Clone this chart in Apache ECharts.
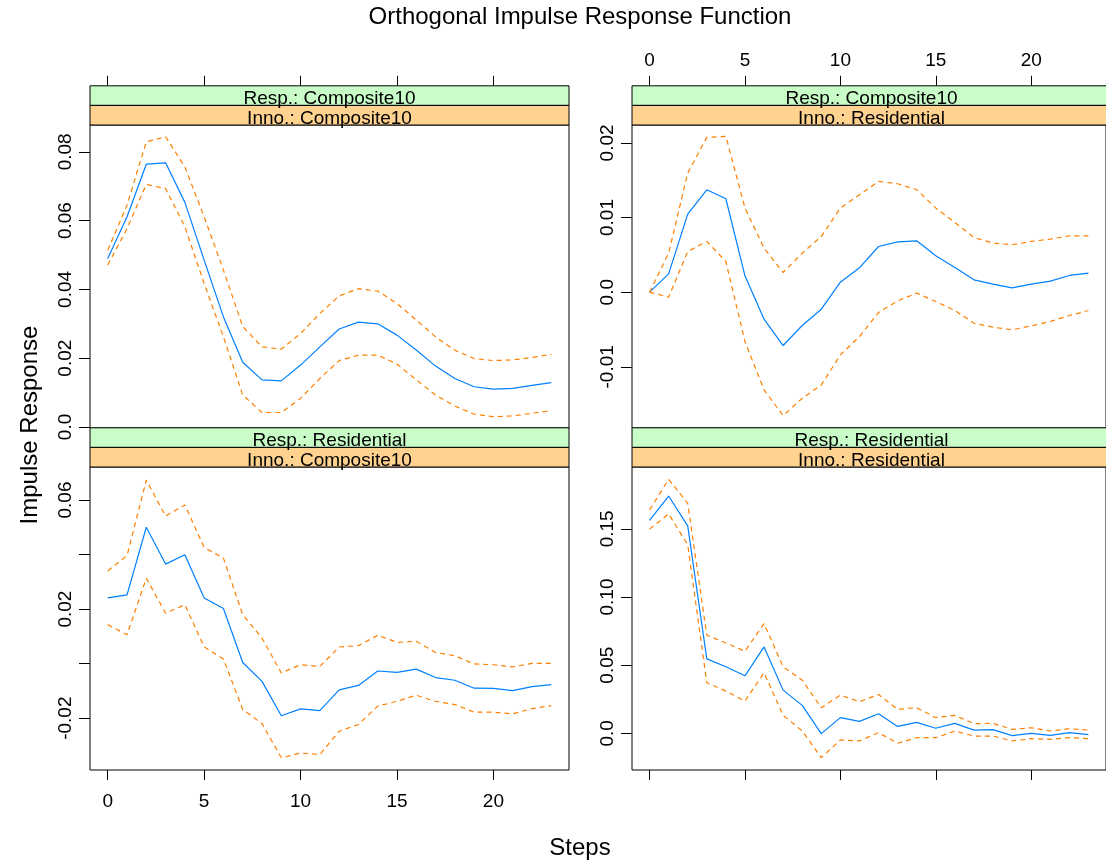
<!DOCTYPE html>
<html>
<head>
<meta charset="utf-8">
<script src="https://cdn.jsdelivr.net/npm/echarts@6/dist/echarts.min.js"></script>
<style>
  html, body { margin: 0; padding: 0; background: #fff; }
  #chart { width: 1106px; height: 865px; }
</style>
</head>
<body>
<div id="chart"></div>
<script>
const steps = [0, 1, 2, 3, 4, 5, 6, 7, 8, 9, 10, 11, 12, 13, 14, 15, 16, 17, 18, 19, 20, 21, 22, 23];

// Resp.: Composite10 / Inno.: Composite10
const c10c10 = [0.0490, 0.0611, 0.0764, 0.0768, 0.0653, 0.0485, 0.0320, 0.0188, 0.0137, 0.0134, 0.0180, 0.0233,
  0.0285, 0.0305, 0.0300, 0.0267, 0.0224, 0.0177, 0.0141, 0.0117, 0.0110, 0.0112, 0.0121, 0.0129];
const c10c10Upper = [0.0514, 0.0645, 0.0829, 0.0844, 0.0756, 0.0611, 0.0456, 0.0292, 0.0233, 0.0226, 0.0272, 0.0330,
  0.0381, 0.0402, 0.0395, 0.0359, 0.0311, 0.0262, 0.0223, 0.0199, 0.0193, 0.0195, 0.0202, 0.0211];
const c10c10Lower = [0.0471, 0.0577, 0.0705, 0.0693, 0.0582, 0.0417, 0.0262, 0.0093, 0.0042, 0.0042, 0.0083, 0.0141,
  0.0193, 0.0209, 0.0209, 0.0183, 0.0137, 0.0093, 0.0061, 0.0037, 0.0030, 0.0032, 0.0040, 0.0047];

// Resp.: Composite10 / Inno.: Residential
const c10res = [0.0000, 0.00246, 0.01046, 0.01372, 0.01252, 0.00219, -0.00362, -0.00715, -0.00447, -0.00228, 0.00134, 0.00326,
  0.00612, 0.00675, 0.00688, 0.00487, 0.00331, 0.00165, 0.00107, 0.00058, 0.00107, 0.00148, 0.00224, 0.00255];
const c10resUpper = [0.0000, 0.00523, 0.01596, 0.02074, 0.02088, 0.01127, 0.00590, 0.00264, 0.00523, 0.00747, 0.01127, 0.01305,
  0.01484, 0.01453, 0.01372, 0.01127, 0.00934, 0.00733, 0.00657, 0.00635, 0.00680, 0.00711, 0.00755, 0.00755];
const c10resLower = [0.0000, -0.00067, 0.00545, 0.00680, 0.00411, -0.00662, -0.01310, -0.01654, -0.01422, -0.01243, -0.00840, -0.00595,
  -0.00273, -0.00116, -0.00013, -0.00125, -0.00246, -0.00416, -0.00469, -0.00505, -0.00452, -0.00393, -0.00313, -0.00246];

// Resp.: Residential / Inno.: Composite10
const resc10 = [0.0241, 0.0252, 0.0500, 0.0365, 0.0399, 0.0241, 0.0202, 0.0004, -0.0065, -0.0191, -0.0166, -0.0172,
  -0.0096, -0.0080, -0.0027, -0.0032, -0.0020, -0.0051, -0.0061, -0.0090, -0.0091, -0.0099, -0.0084, -0.0077];
const resc10Upper = [0.0340, 0.0396, 0.0673, 0.0541, 0.0582, 0.0426, 0.0387, 0.0179, 0.0094, -0.0034, -0.0004, -0.0010,
  0.0061, 0.0066, 0.0104, 0.0078, 0.0082, 0.0041, 0.0029, -0.0001, -0.0004, -0.0012, 0.0001, 0.0001];
const resc10Lower = [0.0143, 0.0106, 0.0313, 0.0185, 0.0216, 0.0061, 0.0017, -0.0168, -0.0220, -0.0345, -0.0328, -0.0333,
  -0.0248, -0.0223, -0.0156, -0.0138, -0.0116, -0.0138, -0.0150, -0.0178, -0.0178, -0.0184, -0.0165, -0.0154];

// Resp.: Residential / Inno.: Residential
const resres = [0.1563, 0.1741, 0.1522, 0.0546, 0.0488, 0.0422, 0.0634, 0.0317, 0.0205, -0.0002, 0.0115, 0.0088,
  0.0144, 0.0051, 0.0080, 0.0037, 0.0073, 0.0024, 0.0027, -0.0017, 0.0000, -0.0015, 0.0005, -0.0010];
const resresUpper = [0.1639, 0.1863, 0.1688, 0.0720, 0.0663, 0.0602, 0.0805, 0.0488, 0.0390, 0.0188, 0.0280, 0.0232,
  0.0285, 0.0176, 0.0188, 0.0115, 0.0132, 0.0071, 0.0073, 0.0029, 0.0041, 0.0017, 0.0034, 0.0024];
const resresLower = [0.1498, 0.1610, 0.1383, 0.0371, 0.0310, 0.0237, 0.0444, 0.0132, 0.0017, -0.0178, -0.0049, -0.0056,
  0.0005, -0.0073, -0.0032, -0.0032, 0.0017, -0.0020, -0.0020, -0.0056, -0.0039, -0.0044, -0.0032, -0.0039];

// tick positions / labels
const xTicks = [0, 5, 10, 15, 20];
const yTicksTL = [0, 0.02, 0.04, 0.06, 0.08];
const yTicksTR = [-0.01, 0, 0.01, 0.02];
const yTicksBL = [-0.02, 0, 0.02, 0.04, 0.06];
const yLabelsBL = [-0.02, 0.02, 0.06];
const yTicksBR = [0, 0.05, 0.10, 0.15];

const FONT = 'Liberation Sans, Arial, Helvetica, sans-serif';
const BLUE = '#0080ff';
const ORANGE = '#ff7f00';
const GREEN_STRIP = '#c8fdc8';
const ORANGE_STRIP = '#ffd28f';

const W = 479, H = 303, STRIP = 19.6;
const panels = [
  { left: 90, top: 125, resp: 'Composite10', inno: 'Composite10', y: [-0.0003, 0.0878], yt: yTicksTL, yl: yTicksTL,
    d: [c10c10, c10c10Upper, c10c10Lower], topTicks: true, topLabels: false, bottomLabels: false, bottomTicks: false },
  { left: 632, top: 125, resp: 'Composite10', inno: 'Residential', y: [-0.0182, 0.0224], yt: yTicksTR, yl: yTicksTR,
    d: [c10res, c10resUpper, c10resLower], topTicks: true, topLabels: true, bottomLabels: false, bottomTicks: false },
  { left: 90, top: 467, resp: 'Residential', inno: 'Composite10', y: [-0.0390, 0.0721], yt: yTicksBL, yl: yLabelsBL,
    d: [resc10, resc10Upper, resc10Lower], topTicks: false, topLabels: false, bottomLabels: true, bottomTicks: true },
  { left: 632, top: 467, resp: 'Residential', inno: 'Residential', y: [-0.0269, 0.1954], yt: yTicksBR, yl: yTicksBR,
    d: [resres, resresUpper, resresLower], topTicks: false, topLabels: false, bottomLabels: false, bottomTicks: true }
];

function fmt(v) {
  if (Math.abs(v) < 1e-9) return '0.0';
  return v.toFixed(2);
}

const grid = [], xAxis = [], yAxis = [], series = [], graphic = [];

panels.forEach((p, k) => {
  grid.push({ left: p.left, top: p.top, width: W, height: H, show: true,
    borderColor: '#000', borderWidth: 1, backgroundColor: 'transparent' });

  // main x axis (bottom)
  xAxis.push({
    type: 'value', gridIndex: k, min: -0.92, max: 23.92, position: 'bottom',
    axisLine: { show: false, onZero: false }, splitLine: { show: false },
    axisTick: { show: p.bottomTicks, inside: false, length: 10, customValues: xTicks,
      lineStyle: { color: '#000', width: 1 } },
    axisLabel: { show: p.bottomLabels, customValues: xTicks, margin: 22, fontSize: 19, color: '#000', fontFamily: FONT }
  });
  // top tick axis above the strips
  xAxis.push({
    type: 'value', gridIndex: k, min: -0.92, max: 23.92, position: 'top', offset: 2 * STRIP,
    axisLine: { show: false, onZero: false }, splitLine: { show: false },
    axisTick: { show: p.topTicks, inside: false, length: 10, customValues: xTicks,
      lineStyle: { color: '#000', width: 1 } },
    axisLabel: { show: p.topLabels, customValues: xTicks, margin: 16, fontSize: 19, color: '#000', fontFamily: FONT }
  });

  yAxis.push({
    type: 'value', gridIndex: k, min: p.y[0], max: p.y[1], position: 'left',
    axisLine: { show: false, onZero: false }, splitLine: { show: false },
    axisTick: { show: true, inside: false, length: 11, customValues: p.yt, lineStyle: { color: '#000', width: 1 } },
    axisLabel: { show: true, customValues: p.yl, rotate: 90, margin: 15, fontSize: 19, color: '#000',
      fontFamily: FONT, formatter: fmt }
  });

  const styles = [
    { color: BLUE, width: 1.2, type: 'solid' },
    { color: ORANGE, width: 1.2, type: [5, 4] },
    { color: ORANGE, width: 1.2, type: [5, 4] }
  ];
  p.d.forEach((arr, j) => {
    series.push({
      type: 'line', xAxisIndex: 2 * k, yAxisIndex: k, symbol: 'none', silent: true,
      lineStyle: styles[j], itemStyle: { color: styles[j].color },
      data: steps.map((s, i) => [s, arr[i]])
    });
  });

  // strips
  const sTop = p.top - 2 * STRIP;
  graphic.push({ type: 'rect', shape: { x: p.left, y: sTop, width: W, height: STRIP },
    style: { fill: GREEN_STRIP, stroke: '#000', lineWidth: 1 }, z: 100 });
  graphic.push({ type: 'rect', shape: { x: p.left, y: sTop + STRIP, width: W, height: STRIP },
    style: { fill: ORANGE_STRIP, stroke: '#000', lineWidth: 1 }, z: 100 });
  graphic.push({ type: 'text', x: p.left + W / 2, y: sTop + 13, z: 101,
    style: { text: 'Resp.: ' + p.resp, fill: '#000', font: '19px ' + FONT, align: 'center', verticalAlign: 'middle' } });
  graphic.push({ type: 'text', x: p.left + W / 2, y: sTop + STRIP + 13, z: 101,
    style: { text: 'Inno.: ' + p.inno, fill: '#000', font: '19px ' + FONT, align: 'center', verticalAlign: 'middle' } });
});

graphic.push({ type: 'text', x: 580, y: 17, style: { text: 'Orthogonal Impulse Response Function', fill: '#000',
  font: '24px ' + FONT, align: 'center', verticalAlign: 'middle' } });
graphic.push({ type: 'text', x: 580, y: 848, style: { text: 'Steps', fill: '#000',
  font: '24px ' + FONT, align: 'center', verticalAlign: 'middle' } });
graphic.push({ type: 'text', x: 30, y: 425, rotation: Math.PI / 2, style: { text: 'Impulse Response', fill: '#000',
  font: '24px ' + FONT, align: 'center', verticalAlign: 'middle' } });

const chart = echarts.init(document.getElementById('chart'), null, { renderer: 'canvas' });
chart.setOption({
  animation: false,
  backgroundColor: '#fff',
  grid: grid,
  xAxis: xAxis,
  yAxis: yAxis,
  series: series,
  graphic: graphic
});
</script>
</body>
</html>
